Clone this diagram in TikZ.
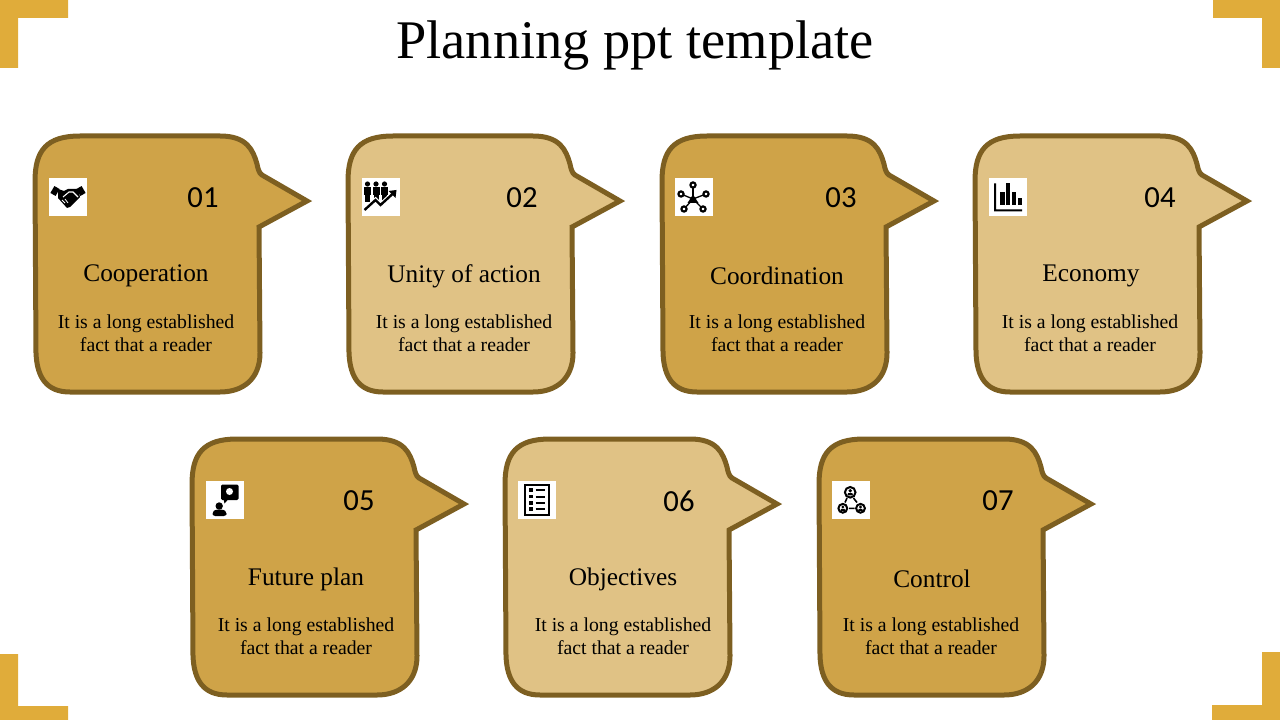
\documentclass[tikz,border=0pt]{standalone}
\usepackage{fontspec}
\setmainfont{Liberation Serif}
\newfontfamily\numfont{Carlito}
\definecolor{darkgold}{HTML}{CFA348}
\definecolor{lightgold}{HTML}{E0C285}
\definecolor{edgegold}{HTML}{7D5F21}
\definecolor{cornergold}{HTML}{E0AC3A}
% icons, drawn in a 38 by 38 square
\newcommand{\handsicon}{
  \fill[rotate around={-30:(6,13)}] (3,9) rectangle (9,17);
  \fill[rotate around={30:(32,13)}] (29,9) rectangle (35,17);
  \fill (9,11) -- (15,13) -- (19,11) -- (23,11) -- (29,11) -- (31,19) -- (21,29) -- (18,30) -- (9,20) -- cycle;
  \draw[white,line width=.8] (14,19) -- (20,14) -- (24,14) -- (29,19);
  \draw[white,line width=.6] (13,22) -- (16,25) (16,21) -- (19,25);
}
\newcommand{\peopleicon}{
  \foreach \px in {6,14.5,23}{
    \fill (\px,6) circle (2.6);
    \fill (\px-3.5,9) rectangle (\px+3.5,17);
    \fill (\px-2.5,17) rectangle (\px+2.5,24);
  }
  \draw[white,line width=3.5] (3,32) -- (14,22) -- (19,27) -- (31,16);
  \draw[line width=1.8] (3,32) -- (14,22) -- (19,27) -- (31,16);
  \fill (27,13) -- (35,12) -- (34,20) -- cycle;
}
\newcommand{\hubicon}{
  \foreach \hx/\hy in {18/7,6/16,31/16,9/31,28/31}{
    \draw[line width=1] (18,21) -- (\hx,\hy);
    \draw[line width=1.6,fill=white] (\hx,\hy) circle (2.6);
  }
  \fill (18,16.5) -- (23.5,25) -- (12.5,25) -- cycle;
}
\newcommand{\barsicon}{
  \fill (5.5,5.5) rectangle (7.5,33.5) rectangle (33.5,31.5);
  \fill (11.5,14) rectangle (16,27);
  \fill (17.3,5.5) rectangle (21.6,27);
  \fill (23,14) rectangle (27.5,27);
  \fill (29,20.5) rectangle (33.5,27);
}
\newcommand{\ideaicon}{
  \fill[rounded corners=1] (15.5,3.5) rectangle (33,19);
  \fill (18,18) -- (19,22.5) -- (23,18) -- cycle;
  \fill[white] (24,10.5) circle (3.5);
  \fill (13.7,25) circle (3.7);
  \fill[rounded corners=2] (7,35) -- (7,31) -- (10,28.5) -- (18,28.5) -- (21,31) -- (21,35) -- cycle;
}
\newcommand{\listicon}{
  \draw[line width=1.8] (6.7,3.7) rectangle (31,33.7);
  \foreach \ly in {9,15.7,22,28}{
    \fill (11,\ly-1.7) rectangle (14.5,\ly+1.7);
    \draw[line width=1.2] (17.7,\ly) -- (26.5,\ly);
  }
}
\newcommand{\ringperson}[3]{
  \draw[line width=1.5] (#1,#2) circle (#3);
  \fill (#1,#2-.3*#3) circle (.35*#3);
  \fill (#1-.55*#3,#2+.6*#3) -- (#1-.4*#3,#2+.15*#3) -- (#1+.4*#3,#2+.15*#3) -- (#1+.55*#3,#2+.6*#3) -- cycle;
}
\newcommand{\teamicon}{
  \ringperson{18.7}{11.3}{5.3}
  \ringperson{11.3}{27.3}{4.4}
  \ringperson{29}{27.3}{4.4}
  \draw[line width=1.2] (17.5,27.3) -- (23,27.3) (15.5,17) -- (13.5,21.5) (22,17) -- (25.5,21.5);
}
\begin{document}
\begin{tikzpicture}[
  x=0.75pt, y=-0.75pt,
  bubble/.style={draw=edgegold, line width=3.75pt, miter limit=10},
  corner/.style={fill=cornergold},
  titletext/.style={font=\fontsize{40.8}{48}\selectfont},
  numtext/.style={font=\numfont\fontsize{23}{27}\selectfont},
  headtext/.style={font=\fontsize{19}{23}\selectfont},
  bodytext/.style={font=\fontsize{14.8}{17.25}\selectfont, align=center},
  iconbox/.style={fill=white, minimum size=28.5pt, inner sep=0pt, anchor=north west}
]
\useasboundingbox (0,0) rectangle (1280,720);
% corners
\fill[corner] (0,0) -- (68,0) -- (68,18) -- (18,18) -- (18,68) -- (0,68) -- cycle;
\fill[corner] (1280,0) -- (1213,0) -- (1213,18) -- (1262,18) -- (1262,68) -- (1280,68) -- cycle;
\fill[corner] (0,720) -- (68,720) -- (68,706) -- (18,706) -- (18,654) -- (0,654) -- cycle;
\fill[corner] (1280,720) -- (1212,720) -- (1212,705) -- (1262,705) -- (1262,652) -- (1280,652) -- cycle;
\node[titletext] (title) at (635,46) {Planning ppt template};
% bubbles
\foreach \bx/\by/\shade/\tag/\numx/\headx/\bodyx/\head in {
  35/136/darkgold/01/203/146/146/Cooperation,
  348/136/lightgold/02/522/464/464/Unity of action,
  662/136/darkgold/03/841/777/777/Coordination,
  975/136/lightgold/04/1160/1091/1090/Economy,
  192/439/darkgold/05/359/306/306/Future plan,
  505/439/lightgold/06/679/623/623/Objectives,
  819/439/darkgold/07/998/932/931/Control}
{
  \begin{scope}[shift={(\bx,\by)}]
    \path[bubble, fill=\shade] (0,45) .. controls (0,14) and (12,0) .. (45,0) -- (185,0)
      .. controls (212,0) and (218,14) .. (222,28) .. controls (223,33) and (224,37) .. (227,39)
      -- (272,65) -- (224,91) -- (225,217) .. controls (225,243) and (208,256) .. (185,256)
      -- (35,256) .. controls (12,256) and (2,242) .. (1,217) -- cycle;
  \end{scope}
  \node[numtext] (num\tag) at (\numx,\by+62) {\tag};
  \node[headtext] (head\tag) at (\headx,\by+140) {\head};
  \node[bodytext] (body\tag) at (\bodyx,\by+197.5) {It is a long established\\fact that a reader};
}
% icons
\node[iconbox] (icon01) at (49,178) {};
\begin{scope}[shift={(icon01.north west)}] \handsicon \end{scope}
\node[iconbox] (icon02) at (361.5,178) {};
\begin{scope}[shift={(icon02.north west)}] \peopleicon \end{scope}
\node[iconbox] (icon03) at (675,178) {};
\begin{scope}[shift={(icon03.north west)}] \hubicon \end{scope}
\node[iconbox] (icon04) at (988.5,178) {};
\begin{scope}[shift={(icon04.north west)}] \barsicon \end{scope}
\node[iconbox] (icon05) at (205.5,481) {};
\begin{scope}[shift={(icon05.north west)}] \ideaicon \end{scope}
\node[iconbox] (icon06) at (518,481) {};
\begin{scope}[shift={(icon06.north west)}] \listicon \end{scope}
\node[iconbox] (icon07) at (831.5,481) {};
\begin{scope}[shift={(icon07.north west)}] \teamicon \end{scope}
\end{tikzpicture}
\end{document}
